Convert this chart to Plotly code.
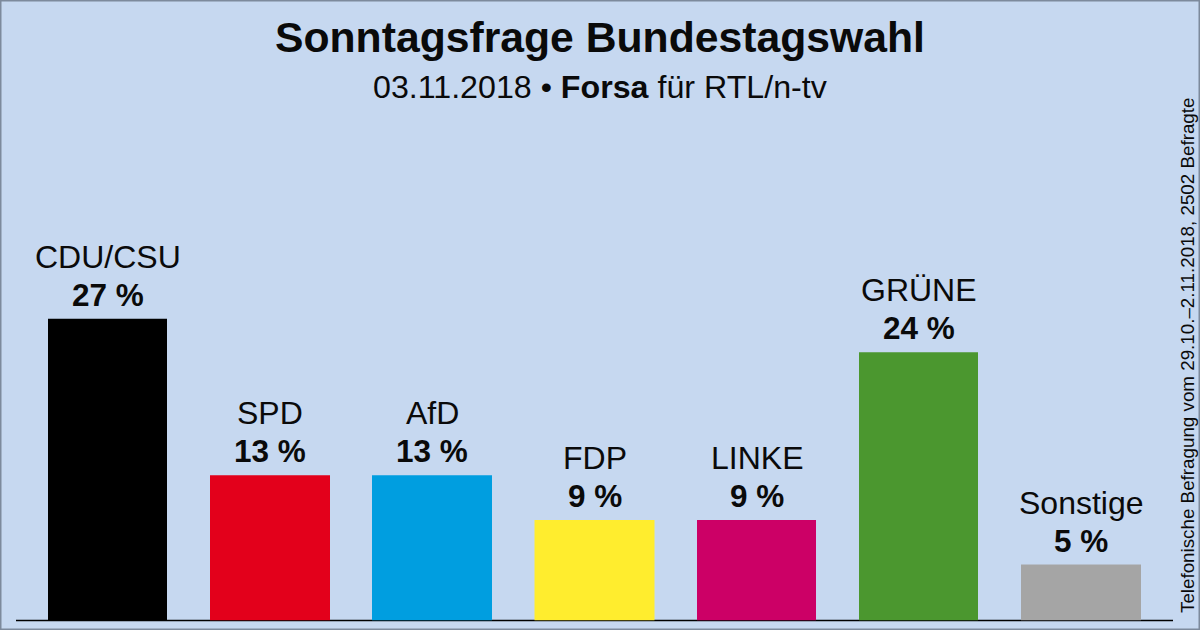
import plotly.graph_objects as go

parties = ["CDU/CSU", "SPD", "AfD", "FDP", "LINKE", "GRÜNE", "Sonstige"]
values = [27, 13, 13, 9, 9, 24, 5]
colors = ["#000000", "#e3001b", "#009ee0", "#ffed2e", "#cc0066", "#4b972f", "#a5a5a5"]
centers = [107.5, 270, 432, 594.5, 756.5, 918.5, 1081]
widths = [119, 120, 120, 120, 119, 119, 120]

FONT = "Liberation Sans"
INK = "#0a0a0a"

fig = go.Figure(go.Bar(
    x=centers, y=values, width=widths, marker=dict(color=colors, line_width=0),
    hoverinfo="skip",
))

annotations = [
    dict(text="<b>Sonntagsfrage Bundestagswahl</b>", x=599.5/1200, y=1-37/630, xref="paper", yref="paper",
         showarrow=False, xanchor="center", yanchor="middle", font=dict(family=FONT, size=42.7, color=INK)),
    dict(text="03.11.2018 • <b>Forsa</b> für RTL/n-tv", x=599.5/1200, y=1-87/630, xref="paper", yref="paper",
         showarrow=False, xanchor="center", yanchor="middle", font=dict(family=FONT, size=32.2, color=INK)),
    dict(text="Telefonische Befragung vom 29.10.–2.11.2018, 2502 Befragte", x=1187/1200, y=1-356/630,
         xref="paper", yref="paper", showarrow=False, textangle=-90, xanchor="center", yanchor="middle",
         font=dict(family=FONT, size=18.8, color=INK)),
]
for c, v, p in zip(centers, values, parties):
    annotations.append(dict(text=p, x=c, y=v, xref="x", yref="y", showarrow=False, xanchor="center",
                            yanchor="middle", yshift=62, font=dict(family=FONT, size=32, color=INK)))
    annotations.append(dict(text=f"<b>{v} %</b>", x=c, y=v, xref="x", yref="y", showarrow=False, xanchor="center",
                            yanchor="middle", yshift=24, font=dict(family=FONT, size=31.5, color=INK)))

fig.update_layout(
    width=1200, height=630, margin=dict(l=0, r=0, t=0, b=0),
    paper_bgcolor="#c6d8f0", plot_bgcolor="#c6d8f0", showlegend=False,
    xaxis=dict(range=[0, 1200], visible=False, fixedrange=True),
    yaxis=dict(domain=[1 - 620.5/630, 1], range=[0, 620.5/11.18], visible=False, fixedrange=True),
    shapes=[
        dict(type="line", xref="paper", yref="paper", x0=16/1200, x1=1173/1200, y0=9.5/630, y1=9.5/630,
             line=dict(color="#000000", width=1.5), layer="below"),
        dict(type="rect", xref="paper", yref="paper", x0=0, x1=1, y0=0, y1=1,
             line=dict(color="#7d8a9c", width=3)),
    ],
    annotations=annotations,
)
fig.write_html("out.html", config=dict(displayModeBar=False),
               post_script="document.body.style.margin='0';document.body.style.overflow='hidden';")
